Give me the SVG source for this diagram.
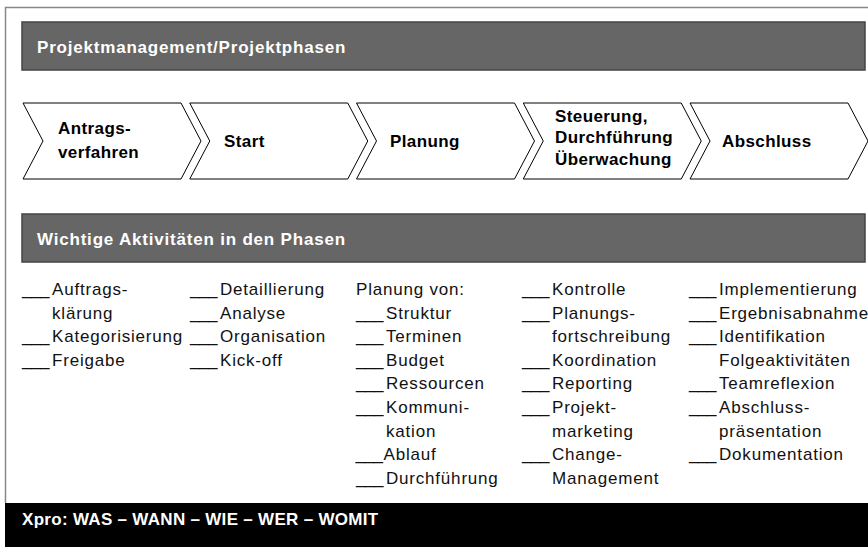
<svg xmlns="http://www.w3.org/2000/svg" width="868" height="547" viewBox="0 0 868 547">
<style>
.bar{fill:#666;stroke:#444;stroke-width:1.5}
.hd{font-family:"Liberation Sans",Arial,sans-serif;font-weight:bold;font-size:17px;fill:#fff;letter-spacing:0.8px}
.chev{fill:#fff;stroke:#000;stroke-width:1}
.cl{font-family:"Liberation Sans",Arial,sans-serif;font-weight:bold;font-size:17px;fill:#000;letter-spacing:0.4px}
.t{font-family:"Liberation Sans",Arial,sans-serif;font-size:17px;fill:#111;letter-spacing:0.8px}
.u{letter-spacing:-0.4px}
.ft{font-family:"Liberation Sans",Arial,sans-serif;font-weight:bold;font-size:17px;fill:#fff;letter-spacing:0.3px}
</style>
<defs>
<polygon id="chevron" class="chev" points="0,103 158,103 178,141 158,179 0,179 20,141"/>
</defs>
<rect x="0" y="0" width="868" height="547" fill="#fff"/>
<g id="frame">
<path d="M5.5,503 V7.5 H868" fill="none" stroke="#888" stroke-width="1.5"/>
</g>
<g id="header1">
<rect class="bar" x="22" y="22" width="843" height="48"/>
<text class="hd" x="37" y="53">Projektmanagement/Projektphasen</text>
</g>
<g id="connectors"></g>
<g id="phase1">
<use href="#chevron" x="23"/>
<text class="cl" x="58" y="134">Antrags-</text>
<text class="cl" x="58" y="158">verfahren</text>
</g>
<g id="phase2">
<use href="#chevron" x="189.75"/>
<text class="cl" x="224" y="147">Start</text>
</g>
<g id="phase3">
<use href="#chevron" x="356.5"/>
<text class="cl" x="390" y="147">Planung</text>
</g>
<g id="phase4">
<use href="#chevron" x="523.25"/>
<text class="cl" x="555" y="121.5">Steuerung,</text>
<text class="cl" x="555" y="143">Durchführung</text>
<text class="cl" x="555" y="164.5">Überwachung</text>
</g>
<g id="phase5">
<use href="#chevron" x="690"/>
<text class="cl" x="722" y="147">Abschluss</text>
</g>
<g id="header2">
<rect class="bar" x="22" y="214" width="843" height="48"/>
<text class="hd" x="37" y="245">Wichtige Aktivitäten in den Phasen</text>
</g>
<g id="activities1">
<text class="t" y="295"><tspan class="u" x="22">___</tspan><tspan x="52">Auftrags-</tspan></text>
<text class="t" x="52" y="318.6">klärung</text>
<text class="t" y="342.2"><tspan class="u" x="22">___</tspan><tspan x="52">Kategorisierung</tspan></text>
<text class="t" y="365.8"><tspan class="u" x="22">___</tspan><tspan x="52">Freigabe</tspan></text>
</g>
<g id="activities2">
<text class="t" y="295"><tspan class="u" x="190">___</tspan><tspan x="220">Detaillierung</tspan></text>
<text class="t" y="318.6"><tspan class="u" x="190">___</tspan><tspan x="220">Analyse</tspan></text>
<text class="t" y="342.2"><tspan class="u" x="190">___</tspan><tspan x="220">Organisation</tspan></text>
<text class="t" y="365.8"><tspan class="u" x="190">___</tspan><tspan x="220">Kick-off</tspan></text>
</g>
<g id="activities3">
<text class="t" x="356" y="295">Planung von:</text>
<text class="t" y="318.6"><tspan class="u" x="356">___</tspan><tspan x="386">Struktur</tspan></text>
<text class="t" y="342.2"><tspan class="u" x="356">___</tspan><tspan x="386">Terminen</tspan></text>
<text class="t" y="365.8"><tspan class="u" x="356">___</tspan><tspan x="386">Budget</tspan></text>
<text class="t" y="389.4"><tspan class="u" x="356">___</tspan><tspan x="386">Ressourcen</tspan></text>
<text class="t" y="413"><tspan class="u" x="356">___</tspan><tspan x="386">Kommuni-</tspan></text>
<text class="t" x="386" y="436.6">kation</text>
<text class="t" y="460.2"><tspan class="u" x="355.5">___</tspan><tspan x="383.5">Ablauf</tspan></text>
<text class="t" y="483.8"><tspan class="u" x="356">___</tspan><tspan x="386">Durchführung</tspan></text>
</g>
<g id="activities4">
<text class="t" y="295"><tspan class="u" x="522">___</tspan><tspan x="552">Kontrolle</tspan></text>
<text class="t" y="318.6"><tspan class="u" x="522">___</tspan><tspan x="552">Planungs-</tspan></text>
<text class="t" x="552" y="342.2">fortschreibung</text>
<text class="t" y="365.8"><tspan class="u" x="522">___</tspan><tspan x="552">Koordination</tspan></text>
<text class="t" y="389.4"><tspan class="u" x="522">___</tspan><tspan x="552">Reporting</tspan></text>
<text class="t" y="413"><tspan class="u" x="522">___</tspan><tspan x="552">Projekt-</tspan></text>
<text class="t" x="552" y="436.6">marketing</text>
<text class="t" y="460.2"><tspan class="u" x="522">___</tspan><tspan x="552">Change-</tspan></text>
<text class="t" x="552" y="483.8">Management</text>
</g>
<g id="activities5">
<text class="t" y="295"><tspan class="u" x="689">___</tspan><tspan x="719">Implementierung</tspan></text>
<text class="t" y="318.6"><tspan class="u" x="689">___</tspan><tspan x="719">Ergebnisabnahme</tspan></text>
<text class="t" y="342.2"><tspan class="u" x="689">___</tspan><tspan x="719">Identifikation</tspan></text>
<text class="t" x="719" y="365.8">Folgeaktivitäten</text>
<text class="t" y="389.4"><tspan class="u" x="689">___</tspan><tspan x="719">Teamreflexion</tspan></text>
<text class="t" y="413"><tspan class="u" x="689">___</tspan><tspan x="719">Abschluss-</tspan></text>
<text class="t" x="719" y="436.6">präsentation</text>
<text class="t" y="460.2"><tspan class="u" x="689">___</tspan><tspan x="719">Dokumentation</tspan></text>
</g>
<g id="footer">
<rect x="5" y="503" width="863" height="44" fill="#000"/>
<text class="ft" x="22" y="525">Xpro: WAS – WANN – WIE – WER – WOMIT</text>
</g>
</svg>
